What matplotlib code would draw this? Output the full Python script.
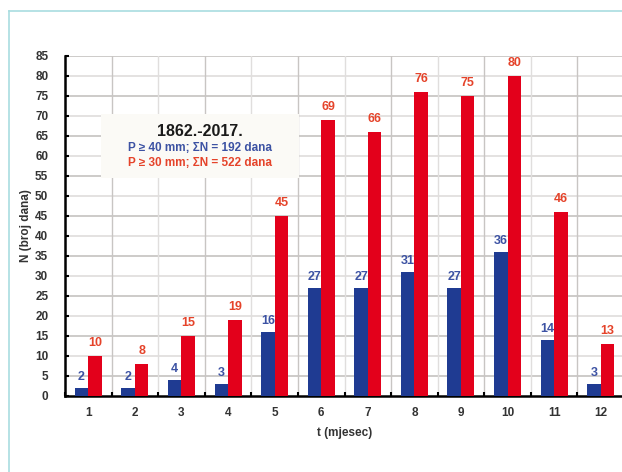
import matplotlib
matplotlib.use('Agg')
import matplotlib.pyplot as plt
import numpy as np

plt.rcParams['font.family'] = ['Liberation Sans', 'DejaVu Sans']

# podaci
mjeseci = [1, 2, 3, 4, 5, 6, 7, 8, 9, 10, 11, 12]
n_40mm = [2, 2, 4, 3, 16, 27, 27, 31, 27, 36, 14, 3]
n_30mm = [10, 8, 15, 19, 45, 69, 66, 76, 75, 80, 46, 13]

plava = '#1f3b92'
crvena = '#e3001b'
plava_txt = '#3c52a3'
crvena_txt = '#e5432a'

W, H = 622, 472
fig = plt.figure(figsize=(W / 100, H / 100), dpi=100)

# okvir slike (svijetlo plava linija)
fig.add_artist(plt.Line2D([9 / W, 9 / W], [0, 1 - 11 / H], color='#a9dde0', lw=1.2))
fig.add_artist(plt.Line2D([9 / W, 1], [1 - 11 / H, 1 - 11 / H], color='#a9dde0', lw=1.2))

ax = fig.add_axes([65 / W, 76 / H, 559 / W, 340 / H])

x = np.arange(len(mjeseci))
w = 0.29
ax.bar(x - w / 2, n_40mm, w, color=plava, zorder=3)
ax.bar(x + w / 2, n_30mm, w, color=crvena, zorder=3)

for xi, v in zip(x, n_40mm):
    ax.text(xi - w / 2, v + 1.2, str(v), ha='center', va='bottom', fontsize=9,
            fontweight='bold', color=plava_txt, zorder=4)
for xi, v in zip(x, n_30mm):
    ax.text(xi + w / 2, v + 1.8, str(v), ha='center', va='bottom', fontsize=9,
            fontweight='bold', color=crvena_txt, zorder=4)

ax.set_xlim(-0.5, len(mjeseci) - 0.5)
ax.set_ylim(0, 85)
ax.set_yticks(np.arange(0, 86, 5))
ax.set_xticks(x)
ax.set_xticklabels([str(m) for m in mjeseci])
ax.set_xticks(np.arange(-0.5, len(mjeseci), 1), minor=True)

ax.tick_params(axis='x', which='major', length=0, pad=8, labelsize=8.5, labelcolor='#333333')
ax.tick_params(axis='x', which='minor', direction='in', length=3, width=1.5, color='black')
ax.tick_params(axis='y', direction='in', length=3, width=1.5, pad=12, labelsize=8.5,
               labelcolor='#333333')
for lab in ax.get_xticklabels() + ax.get_yticklabels():
    lab.set_fontweight('bold')

# mreza - naizmjenicno tamnije i svjetlije linije
for yv in np.arange(5, 86, 5):
    c = '#c0bdbb' if yv % 10 == 5 else '#dcdad9'
    ax.axhline(yv, color=c, lw=1.1, zorder=0)
for k, xv in enumerate(np.arange(0.5, len(mjeseci) - 0.5, 1)):
    c = '#c8c5c3' if k % 2 == 0 else '#e0dedd'
    ax.axvline(xv, color=c, lw=1.0, zorder=0)

for s in ['top', 'right']:
    ax.spines[s].set_visible(False)
ax.spines['left'].set_linewidth(1.8)
ax.spines['bottom'].set_linewidth(1.8)

ax.set_ylabel('N (broj dana)', fontsize=8.5, fontweight='bold', color='#333333', labelpad=2)
ax.set_xlabel('t (mjesec)', fontsize=8.5, fontweight='bold', color='#333333', labelpad=6)

# legenda kao tekstualni okvir
fig.patches.append(plt.Rectangle((101 / W, 1 - 178 / H), 198 / W, 64 / H,
                                 transform=fig.transFigure, facecolor='#fbfaf6',
                                 edgecolor='none', zorder=5))
fig.text(200 / W, 1 - 131 / H, '1862.-2017.', ha='center', va='center', fontsize=11.5,
         fontweight='bold', color='#1a1a1a', zorder=6)
fig.text(200 / W, 1 - 148 / H, 'P ≥ 40 mm; ΣN = 192 dana', ha='center', va='center',
         fontsize=8.5, fontweight='bold', color=plava_txt, zorder=6)
fig.text(200 / W, 1 - 163 / H, 'P ≥ 30 mm; ΣN = 522 dana', ha='center', va='center',
         fontsize=8.5, fontweight='bold', color=crvena_txt, zorder=6)

fig.savefig('out.png', dpi=100)
